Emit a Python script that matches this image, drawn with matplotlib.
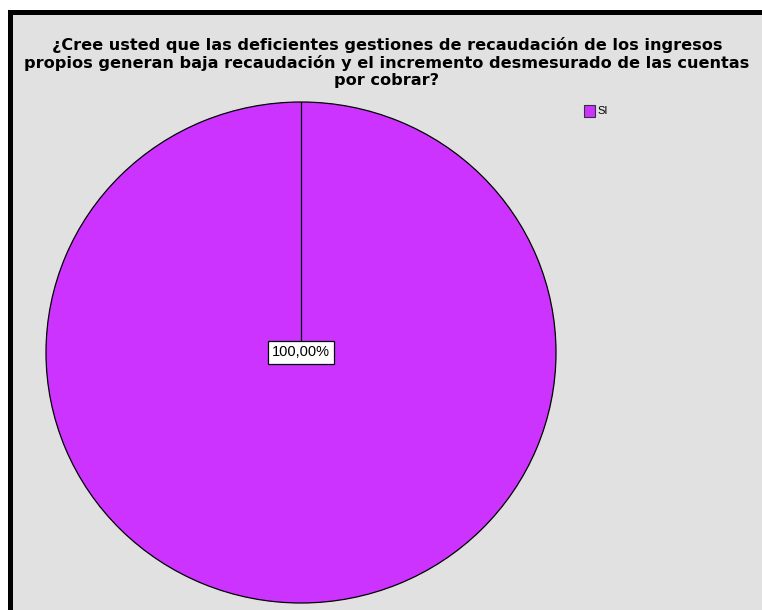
import matplotlib

matplotlib.use("Agg")

import matplotlib.pyplot as plt
from matplotlib.patches import Rectangle

# data
categories = ["SI"]
values = [100.0]
labels = ["100,00%"]
title = ("¿Cree usted que las deficientes gestiones de recaudación de los ingresos\n"
         "propios generan baja recaudación y el incremento desmesurado de las cuentas\n"
         "por cobrar?")

W, H = 762, 610
bg = "#e1e1e1"
purple = "#cc33ff"

plt.rcParams["font.family"] = ["DejaVu Sans"]

fig = plt.figure(figsize=(W / 100, H / 100), dpi=100)
fig.patch.set_facecolor("white")

# gray panel with thick black frame (left + top visible)
fig.patches.append(Rectangle((12 / W, -0.1), 1.2, (H - 15) / H + 0.1, transform=fig.transFigure,
                             facecolor=bg, edgecolor="none", zorder=0))
fig.patches.append(Rectangle((9.5 / W, -0.1), 1.2, (H - 12.5) / H + 0.1, transform=fig.transFigure,
                             facecolor="none", edgecolor="black", linewidth=3.6, zorder=1))

fig.text(387 / W, 1 - 37 / H, title, ha="center", va="top", fontsize=11.6,
         fontweight="bold", linespacing=1.18)

# pie area (slightly squashed like the original)
ax = fig.add_axes([46 / W, (H - 603) / H, 510 / W, 501 / H], zorder=3)
wedges, _ = ax.pie(values, colors=[purple], startangle=90, counterclock=False,
                   wedgeprops=dict(edgecolor="black", linewidth=0.9))
ax.set_aspect("auto")
ax.set_xlim(-1.0, 1.0)
ax.set_ylim(-1.0, 1.0)
ax.plot([0, 0], [0, 1], color="black", linewidth=0.9)
ax.text(0, 0.0, labels[0], ha="center", va="center", fontsize=10.5,
        family="Liberation Sans",
        bbox=dict(boxstyle="square,pad=0.3", facecolor="white", edgecolor="black", linewidth=0.9))

# legend
fig.patches.append(Rectangle((584 / W, 1 - 117 / H), 11 / W, 12 / H, transform=fig.transFigure,
                             facecolor=purple, edgecolor="#333333", linewidth=0.8, zorder=3))
fig.text(597 / W, 1 - 111 / H, categories[0], ha="left", va="center", fontsize=8,
         family="Liberation Sans")

fig.savefig("out.png", dpi=100, facecolor=fig.get_facecolor())
